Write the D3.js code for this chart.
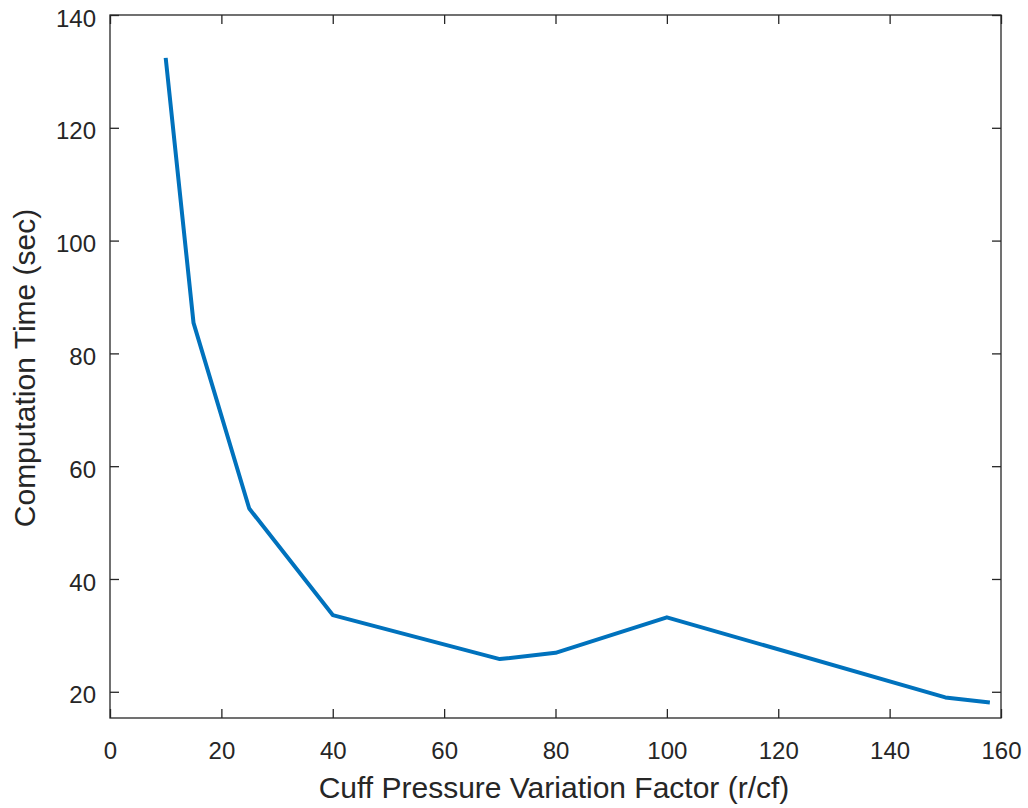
<!DOCTYPE html>
<html>
<head>
<meta charset="utf-8">
<script src="https://cdn.jsdelivr.net/npm/d3@7"></script>
<style>
  body { margin: 0; background: #fff; }
  svg text { font-family: "Liberation Sans", Arial, sans-serif; fill: #262626; }
</style>
</head>
<body>
<svg id="chart" width="1028" height="808"></svg>
<script>
// data
const factor = [10, 15, 25, 40, 70, 80, 100, 150, 158];
const compTime = [132.4, 85.4, 52.5, 33.6, 25.8, 26.9, 33.2, 19.0, 18.1];
const xTicks = [0, 20, 40, 60, 80, 100, 120, 140, 160];
const yTicks = [20, 40, 60, 80, 100, 120, 140];

const margin = {left: 110, top: 15, right: 1001, bottom: 718};
const svg = d3.select('#chart');

let x = d3.scaleLinear().domain([0, 160]).range([margin.left, margin.right]);
let y = d3.scaleLinear().domain([15.35, 140]).range([margin.bottom, margin.top]);

const axisColor = '#262626';
const tickLen = 9;

// bottom + top axis
let gx = svg.append('g')
    .attr('transform', 'translate(0,' + margin.bottom + ')')
    .call(d3.axisBottom(x).tickValues(xTicks).tickSizeInner(-tickLen).tickSizeOuter(0).tickPadding(23.5));
let gxTop = svg.append('g')
    .attr('transform', 'translate(0,' + margin.top + ')')
    .call(d3.axisTop(x).tickValues(xTicks).tickSizeInner(-tickLen).tickSizeOuter(0).tickFormat(''));

// left + right axis
let gy = svg.append('g')
    .attr('transform', 'translate(' + margin.left + ',0)')
    .call(d3.axisLeft(y).tickValues(yTicks).tickSizeInner(-tickLen).tickSizeOuter(0).tickPadding(14));
let gyRight = svg.append('g')
    .attr('transform', 'translate(' + margin.right + ',0)')
    .call(d3.axisRight(y).tickValues(yTicks).tickSizeInner(-tickLen).tickSizeOuter(0).tickFormat(''));

[gx, gxTop, gy, gyRight].forEach(function(g) {
    g.select('.domain').remove();
    g.selectAll('line').attr('stroke', axisColor).attr('stroke-width', 1.3);
    g.selectAll('text').style('font-size', '24px').attr('fill', axisColor);
});
gx.selectAll('text').attr('dy', '0.71em');
gy.selectAll('text').attr('dy', '0.46em');

// frame
svg.append('rect')
    .attr('x', margin.left)
    .attr('y', margin.top)
    .attr('width', margin.right - margin.left)
    .attr('height', margin.bottom - margin.top)
    .attr('fill', 'none')
    .attr('stroke', axisColor)
    .attr('stroke-width', 1.3);

// line
let line = d3.line()
    .x(function(d, i) { return x(factor[i]); })
    .y(function(d) { return y(d); });

svg.append('path')
    .datum(compTime)
    .attr('d', line)
    .attr('fill', 'none')
    .attr('stroke', '#0072BD')
    .attr('stroke-width', 4)
    .attr('stroke-linejoin', 'round');

// axis titles
svg.append('text')
    .attr('x', 554)
    .attr('y', 798)
    .attr('text-anchor', 'middle')
    .style('font-size', '30px')
    .text('Cuff Pressure Variation Factor (r/cf)');

svg.append('text')
    .attr('transform', 'translate(35,368) rotate(-90)')
    .attr('text-anchor', 'middle')
    .style('font-size', '30px')
    .text('Computation Time (sec)');
</script>
</body>
</html>
